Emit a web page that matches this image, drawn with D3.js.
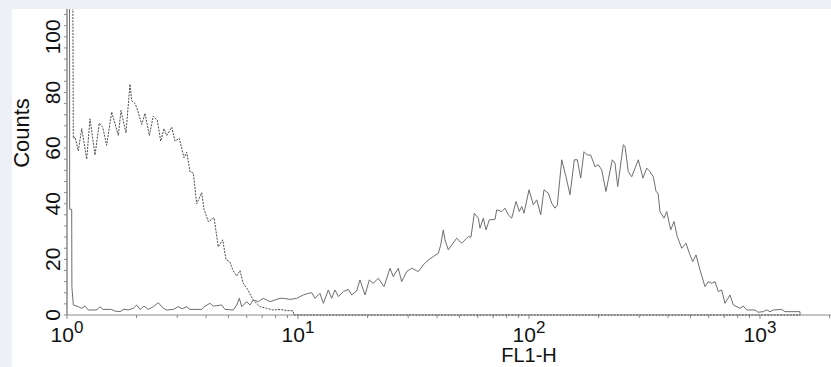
<!DOCTYPE html>
<html>
<head>
<meta charset="utf-8">
<script src="https://cdn.jsdelivr.net/npm/d3@7"></script>
<style>
  body { margin: 0; background: #eef0f7; }
  svg { display: block; font-family: "Liberation Sans", Arial, Helvetica, sans-serif; }
</style>
</head>
<body>
<svg id="chart" width="831" height="367"></svg>
<script>
// FL1-H histogram, isotype control (dotted) vs stained sample (solid)
const isotypeFL = [1.0, 1.056, 1.065, 1.083, 1.119, 1.158, 1.217, 1.258, 1.322, 1.380,
  1.427, 1.485, 1.561, 1.668, 1.713, 1.800, 1.874, 1.906, 1.970, 2.015,
  2.106, 2.176, 2.272, 2.364, 2.460, 2.545, 2.630, 2.702, 2.840, 2.935,
  3.063, 3.210, 3.298, 3.408, 3.523, 3.644, 3.830, 3.919, 4.091, 4.329,
  4.519, 4.721, 4.879, 5.078, 5.232, 5.429, 5.610, 5.781, 6.074, 6.385,
  6.847, 7.318, 7.795, 8.358, 9.0, 9.515, 9.6, 1490];
const isotypeCounts = [150, 150, 63.5, 64, 59, 67, 56, 70.5, 57.5, 69,
  67.5, 61, 73, 64.5, 73.5, 65.5, 83, 77, 76, 74,
  68.5, 72.5, 64.5, 71.5, 70, 62.5, 67, 64.5, 67.5, 62.5,
  63.5, 56.5, 58.5, 51.5, 51, 40, 44, 38, 33.5, 35,
  24.5, 27, 20, 19, 16, 14, 16, 11.5, 9, 5.5,
  3, 2.4, 1.8, 2, 1.6, 1.5, 0, 0];

const stainedFL = [1.0, 1.025, 1.027, 1.048, 1.050, 1.065, 1.119, 1.158, 1.196, 1.236,
  1.345, 1.389, 1.432, 1.561, 1.613, 1.696, 1.765, 1.842, 1.936, 2.003,
  2.070, 2.154, 2.249, 2.364, 2.485, 2.612, 2.702, 2.886, 3.033, 3.147,
  3.298, 3.408, 3.830, 3.958, 4.159, 4.298, 4.675, 4.831, 5.248, 5.429,
  5.571, 5.705, 5.997, 6.198, 6.405, 6.733, 7.076, 7.318, 7.566, 7.951,
  8.358, 8.638, 9.235, 9.872, 10.54, 11.08, 11.47, 11.85, 12.45, 12.87,
  13.53, 13.99, 14.46, 14.95, 15.71, 16.51, 17.08, 17.95, 18.55, 19.50,
  20.36, 21.18, 22.26, 23.57, 25.02, 25.85, 27.18, 28.11, 29.55, 31.06,
  33.18, 34.87, 36.65, 38.52, 40.50, 41.48, 42.56, 43.29, 44.74, 46.29,
  48.64, 51.13, 52.84, 54.60, 56.09, 57.97, 60.33, 61.37, 63.42, 65.15,
  67.32, 71.27, 72.49, 76.19, 78.73, 81.36, 84.16, 87.85, 90.79, 92.99,
  95.15, 100, 104.4, 108.0, 112.4, 116.1, 121.2, 125.4, 129.6, 132.6,
  138.6, 144.6, 150.5, 157.1, 161.9, 167.4, 173.0, 178.8, 185.0, 193.1,
  199.5, 206.4, 215.4, 220.4, 229.4, 235.6, 242.1, 256.0, 260.4, 269.1,
  278.4, 297.3, 311.5, 323.2, 334.1, 345.3, 354.7, 361.8, 369.1, 384.1,
  394.6, 410.6, 424.4, 438.5, 458.2, 478.3, 494.3, 511.4, 528.5, 549.9,
  578.0, 597.4, 618.0, 638.7, 659.9, 682.6, 705.5, 741.5, 766.3, 819.1,
  846.5, 876.0, 951.5, 980.2, 1033, 1069, 1105, 1142, 1241, 1283,
  1490, 1491];
const stainedCounts = [150, 150, 38, 38, 10, 3.6, 3, 2.4, 3.2, 1.8,
  1.8, 3, 2, 2, 1.4, 1.2, 2.1, 1.8, 2.4, 3.6,
  2, 3.2, 2, 3, 4.4, 2.4, 1.8, 2, 3, 2.2,
  3, 2, 2, 3.2, 4.2, 3.2, 3.6, 2, 1.8, 3.6,
  6, 3, 4.8, 3.6, 5.4, 4.8, 6, 5.4, 4.8, 5.4,
  6, 6, 5.6, 6, 7.2, 7.8, 8, 6, 7.8, 4.2,
  9, 6, 9, 6.6, 8.4, 9.2, 7.2, 8.7, 12.6, 7.2,
  12.6, 11.4, 13.2, 10.2, 16.8, 13.8, 16.8, 12, 15.6, 16.8,
  15.6, 18, 19.8, 21, 22.2, 25.2, 30.6, 27, 23.4, 25.2,
  27.6, 25.8, 27, 28.2, 28, 36.6, 34.8, 31.2, 34.8, 30.6,
  34.2, 34.4, 37.8, 37.2, 38.4, 36, 34.8, 40.8, 37.2, 39,
  36.6, 45, 39.6, 41.4, 36, 45, 43.8, 40.2, 38.4, 39.5,
  55.8, 49.7, 43.2, 55.8, 55.8, 49.2, 58.7, 57.5, 57.5, 53.3,
  54, 52.2, 44.4, 48.6, 55.8, 54.6, 46.2, 61.2, 60.6, 51.5,
  49.7, 55.8, 49.2, 52.8, 51.5, 49.7, 44.4, 43.8, 37.2, 34.8,
  37.2, 30.6, 33.6, 28.2, 24, 25.8, 22.2, 19.2, 21.6, 16.2,
  10.2, 12, 11.4, 12, 8.4, 9, 4.2, 7.2, 3.6, 2.4,
  3.2, 1.8, 1.8, 1, 1.2, 1.8, 1.2, 1.8, 2, 1.2,
  1.2, 0];

const yTicks = [0, 20, 40, 60, 80, 100];
const xDecades = [0, 1, 2, 3];

const svg = d3.select('#chart');

// white panel
svg.append('rect')
  .attr('x', 12).attr('y', 9)
  .attr('width', 819).attr('height', 358)
  .attr('fill', '#ffffff');

const plotLeft = 67, plotBottom = 315, plotTop = 9;
const pxPerDecade = 231;

const x = d3.scaleLog()
  .domain([1, 2000])
  .range([plotLeft, plotLeft + pxPerDecade * Math.log10(2000)]);

const y = d3.scaleLinear()
  .domain([0, 110])
  .range([plotBottom, plotTop]);

svg.append('clipPath').attr('id', 'plotclip')
  .append('rect')
  .attr('x', plotLeft - 2).attr('y', plotTop)
  .attr('width', 831 - plotLeft + 2).attr('height', plotBottom - plotTop + 2);

const axisColor = '#8a8a8a';

// x axis: minor ticks from the log scale, decades labelled as powers of ten
const xAxisG = svg.append('g').attr('transform', `translate(0,${plotBottom})`);
xAxisG.append('line')
  .attr('x1', plotLeft).attr('x2', 831)
  .attr('stroke', axisColor).attr('stroke-width', 1);
xAxisG.selectAll('.xtick')
  .data(x.ticks().filter(d => d <= 2000))
  .join('line')
  .attr('class', 'xtick')
  .attr('x1', d => x(d)).attr('x2', d => x(d))
  .attr('y1', 0)
  .attr('y2', d => Math.abs(Math.log10(d) % 1) < 1e-9 ? 4 : 3)
  .attr('stroke', axisColor);

const xLabels = xAxisG.selectAll('.xlabel')
  .data(xDecades)
  .join('text')
  .attr('class', 'xlabel')
  .attr('x', d => x(Math.pow(10, d)))
  .attr('y', 27)
  .attr('text-anchor', 'middle')
  .attr('fill', '#111')
  .style('font-size', '21px');
xLabels.append('tspan').text('10');
xLabels.append('tspan')
  .attr('dy', -9)
  .style('font-size', '17px')
  .text(d => d);

svg.append('text')
  .attr('x', x(100))
  .attr('y', 362)
  .attr('text-anchor', 'middle')
  .attr('fill', '#111')
  .style('font-size', '20px')
  .text('FL1-H');

// y axis
const yAxisG = svg.append('g').attr('transform', `translate(${plotLeft},0)`);
yAxisG.append('line')
  .attr('y1', plotTop).attr('y2', plotBottom)
  .attr('stroke', axisColor).attr('stroke-width', 1.5);
yAxisG.selectAll('.ytick')
  .data(d3.range(0, 110, 4))
  .join('line')
  .attr('class', 'ytick')
  .attr('x1', -3).attr('x2', 0)
  .attr('y1', d => y(d)).attr('y2', d => y(d))
  .attr('stroke', axisColor);
yAxisG.selectAll('.ylabel')
  .data(yTicks)
  .join('text')
  .attr('class', 'ylabel')
  .attr('transform', d => `translate(-7,${y(d)}) rotate(-90)`)
  .attr('text-anchor', 'middle')
  .attr('fill', '#111')
  .style('font-size', '21px')
  .text(d => d);

svg.append('text')
  .attr('transform', `translate(29,133) rotate(-90)`)
  .attr('text-anchor', 'middle')
  .attr('fill', '#111')
  .style('font-size', '22px')
  .text('Counts');

// histogram traces
const line = d3.line()
  .x(d => x(d[0]))
  .y(d => y(d[1]));

const plot = svg.append('g').attr('clip-path', 'url(#plotclip)');

plot.append('path')
  .datum(d3.zip(stainedFL, stainedCounts))
  .attr('d', line)
  .attr('fill', 'none')
  .attr('stroke', '#6e6e6e')
  .attr('stroke-width', 1);

plot.append('path')
  .datum(d3.zip(isotypeFL, isotypeCounts))
  .attr('d', line)
  .attr('fill', 'none')
  .attr('stroke', '#4a4a4a')
  .attr('stroke-width', 1)
  .attr('stroke-dasharray', '2,1.2');
</script>
</body>
</html>
